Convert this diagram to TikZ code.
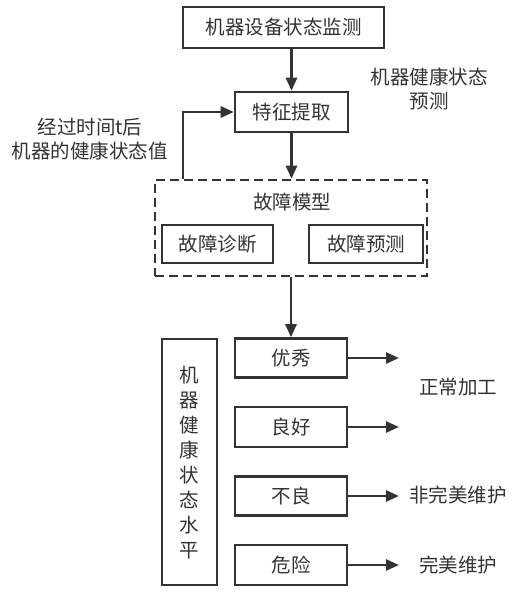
\documentclass[tikz,border=0pt]{standalone}
\usepackage{fontspec}
\setmainfont{Noto Sans CJK SC}
\usetikzlibrary{arrows.meta}
\definecolor{ink}{HTML}{333333}
\tikzset{
  box/.style={draw=ink, line width=2.6pt, minimum width=112pt, minimum height=39pt, inner sep=0pt, text=ink, font=\fontsize{19.5}{22}\selectfont},
  arr/.style={draw=ink, line width=2.6pt, -{Triangle[length=13pt,width=11pt]}},
  lbl/.style={text=ink, font=\fontsize{19.5}{24}\selectfont, align=center, inner sep=0pt}
}
\begin{document}
\begin{tikzpicture}[x=1pt,y=-1pt]
\useasboundingbox (0,0) rectangle (527,608);
% top
\node[box, minimum width=201pt, minimum height=41pt] (top) at (283.5,27.5) {机器设备状态监测};
\node[box, minimum width=113pt, minimum height=40pt] (feat) at (291.5,112) {特征提取};
\node[draw=ink, line width=2.6pt, dash pattern=on 9pt off 5pt, minimum width=272pt, minimum height=96pt, inner sep=0pt] (model) at (291,228) {};
\node[lbl] (mtitle) at (292,202) {故障模型};
\node[box, minimum width=111pt, minimum height=38pt] (diag) at (217.5,244) {故障诊断};
\node[box, minimum width=114pt, minimum height=38pt] (pred) at (366,244) {故障预测};
\node[lbl] (predlbl) at (429,89) {机器健康状态\\预测};
\node[lbl] (fblbl) at (90,139.5) {经过时间t后\\机器的健康状态值};
% lower
\node[box, minimum width=55pt, minimum height=246pt] (vert) at (189.5,462) {};
\node[lbl, font=\fontsize{19.5}{25}\selectfont] (vtext) at (189.5,462.5) {机\\器\\健\\康\\状\\态\\水\\平};
\node[box] (l1) at (291,358) {优秀};
\node[box, minimum height=40pt] (l2) at (291,427) {良好};
\node[box] (l3) at (291,496) {不良};
\node[box, minimum height=40pt] (l4) at (291,565) {危险};
\coordinate (e1) at (399,358);
\coordinate (e2) at (399,427);
\coordinate (e3) at (399,496);
\coordinate (e4) at (399,565);
\node[lbl] (o1) at (458,387) {正常加工};
\node[lbl] (o3) at (458,495) {非完美维护};
\node[lbl] (o4) at (458,565) {完美维护};
% connectors
\coordinate (fbx) at (183,0);
\draw[arr] (top.south -| feat.north) -- (feat.north);
\draw[arr] (feat.south) -- (model.north -| feat.south);
\draw[arr] (model.north -| fbx) |- (feat.west);
\draw[arr] (model.south) -- (l1.north);
\draw[arr] (l1.east) -- (e1);
\draw[arr] (l2.east) -- (e2);
\draw[arr] (l3.east) -- (e3);
\draw[arr] (l4.east) -- (e4);
\end{tikzpicture}
\end{document}
